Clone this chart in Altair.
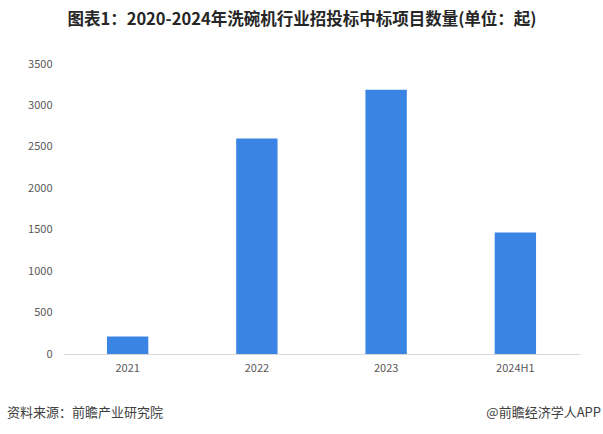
import altair as alt
import pandas as pd

categories = ["2021", "2022", "2023", "2024H1"]
values = [210, 2600, 3190, 1465]
y_ticks = [0, 500, 1000, 1500, 2000, 2500, 3000, 3500]

title_text = "图表1：2020-2024年洗碗机行业招投标中标项目数量(单位：起)"
source_text = "资料来源：前瞻产业研究院"
brand_text = "@前瞻经济学人APP"

FONT = "Noto Sans CJK SC"

df = pd.DataFrame({"cat": categories, "val": values})

bars = alt.Chart(df).mark_bar(color="#3A85E4").encode(
    x=alt.X("cat:N", sort=categories, title=None,
            scale=alt.Scale(paddingInner=0.68, paddingOuter=0.34),
            axis=alt.Axis(labelAngle=0, labelFont=FONT, labelFontSize=11,
                          labelColor="#595959", domainColor="#D9D9D9",
                          ticks=False, labelPadding=8)),
    y=alt.Y("val:Q", title=None,
            scale=alt.Scale(domain=[0, 3500], nice=False),
            axis=alt.Axis(values=y_ticks, grid=False, domain=False, ticks=False,
                          format="d",
                          labelFont=FONT, labelFontSize=11, labelColor="#595959",
                          labelPadding=11)),
)

tdf = pd.DataFrame({"t": [title_text]})
title = alt.Chart(tdf).mark_text(font=FONT, fontSize=16.5, fontWeight="bold",
                                 color="#262626", align="center", baseline="middle").encode(
    text="t:N", x=alt.value(239), y=alt.value(-44))

sdf = pd.DataFrame({"t": [source_text]})
source = alt.Chart(sdf).mark_text(font=FONT, fontSize=13, color="#404040",
                                  align="left", baseline="middle").encode(
    text="t:N", x=alt.value(-56), y=alt.value(349))

bdf = pd.DataFrame({"t": [brand_text]})
brand = alt.Chart(bdf).mark_text(font=FONT, fontSize=13, color="#404040",
                                 align="right", baseline="middle").encode(
    text="t:N", x=alt.value(538), y=alt.value(349))

chart = alt.layer(bars, title, source, brand).properties(
    width=517, height=290,
    autosize=alt.AutoSizeParams(type="none"),
    padding={"left": 63, "top": 64, "right": 23, "bottom": 80},
).configure(background="white").configure_view(stroke=None)

chart.save("out.html", embed_options={"renderer": "svg", "actions": False})
